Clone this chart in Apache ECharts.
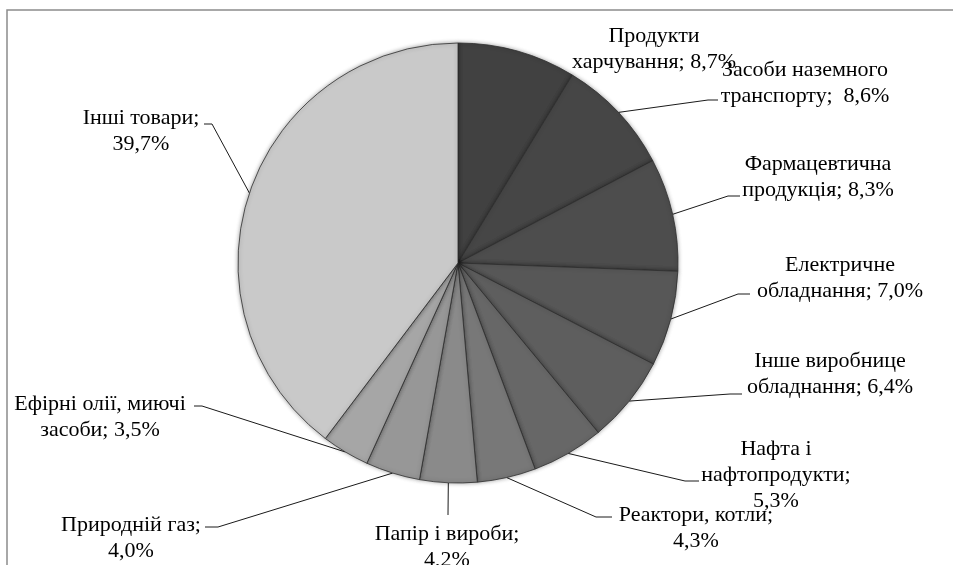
<!DOCTYPE html>
<html>
<head>
<meta charset="utf-8">
<script src="https://cdn.jsdelivr.net/npm/echarts@6/dist/echarts.min.js"></script>
<style>
html,body{margin:0;padding:0;background:#fff;}
#chart{width:953px;height:565px;}
</style>
</head>
<body>
<div id="chart"></div>
<script>
// Data
var categories = [
  'Продукти\nхарчування',
  'Засоби наземного\nтранспорту',
  'Фармацевтична\nпродукція',
  'Електричне\nобладнання',
  'Інше виробнице\nобладнання',
  'Нафта і\nнафтопродукти',
  'Реактори, котли',
  'Папір і вироби',
  'Природній газ',
  'Ефірні олії, миючі\nзасоби',
  'Інші товари'
];
var values = [8.7, 8.6, 8.3, 7.0, 6.4, 5.3, 4.3, 4.2, 4.0, 3.5, 39.7];
var separators = ['; ', ';  ', '; ', '; ', '; ', ';\n', ';\n', ';\n', ';\n', '; ', ';\n'];

// Styles / layout (kept separate from data)
var colors = ['#414141', '#464646', '#4d4d4d', '#575757', '#5e5e5e', '#676767',
              '#787878', '#8a8a8a', '#979797', '#a6a6a6', '#c9c9c9'];
// label centre (x,y) and leader line end points [[x1,y1],[x2,y2]] (null = no line)
var labelPos = [
  {x: 654, y: 49, line: null},
  {x: 805, y: 83, line: [[708, 100], [718, 100]]},
  {x: 818, y: 177, line: [[728, 196], [740, 196]]},
  {x: 840, y: 278, line: [[738, 294], [750, 294]]},
  {x: 830, y: 374, line: [[730, 394], [742, 394]]},
  {x: 776, y: 475, line: [[685, 481], [699, 481]]},
  {x: 696, y: 528, line: [[596, 517], [612, 517]]},
  {x: 447, y: 547, line: [[448, 514], [448, 515]]},
  {x: 131, y: 538, line: [[218, 527], [205, 527]]},
  {x: 100, y: 417, line: [[202, 406], [194, 406]]},
  {x: 141, y: 131, line: [[212, 124], [204, 124]]}
];

function fmt(v) { return v.toFixed(1).replace('.', ',') + '%'; }

var seriesData = categories.map(function (c, i) {
  var item = {
    name: c,
    value: values[i],
    itemStyle: {color: colors[i]}
  };
  if (!labelPos[i].line) { item.labelLine = {show: false}; }
  return item;
});

var chart = echarts.init(document.getElementById('chart'), null, {renderer: 'canvas'});
chart.setOption({
  backgroundColor: '#ffffff',
  animation: false,
  graphic: [{
    type: 'rect',
    shape: {x: 7, y: 10, width: 1000, height: 600},
    style: {fill: 'none', stroke: '#8c8c8c', lineWidth: 1.5},
    silent: true,
    z: -10
  }],
  series: [{
    type: 'pie',
    center: [458, 263],
    radius: 220,
    startAngle: 90,
    clockwise: true,
    data: seriesData,
    itemStyle: {
      borderColor: '#2e2e2e',
      borderWidth: 0.8,
      shadowColor: 'rgba(0,0,0,0.35)',
      shadowBlur: 4
    },
    label: {
      show: true,
      position: 'outside',
      fontFamily: '"Liberation Serif", "Times New Roman", serif',
      fontSize: 22,
      lineHeight: 26,
      color: '#000',
      align: 'center',
      formatter: function (p) {
        return p.name + separators[p.dataIndex] + fmt(p.value);
      }
    },
    labelLine: {
      show: true,
      lineStyle: {color: '#1a1a1a', width: 1}
    },
    labelLayout: function (params) {
      var lp = labelPos[params.dataIndex];
      var res = {x: lp.x, y: lp.y, align: 'center', verticalAlign: 'middle'};
      if (lp.line && params.labelLinePoints) {
        res.labelLinePoints = [params.labelLinePoints[0], lp.line[0], lp.line[1]];
      }
      return res;
    }
  }]
});
</script>
</body>
</html>
